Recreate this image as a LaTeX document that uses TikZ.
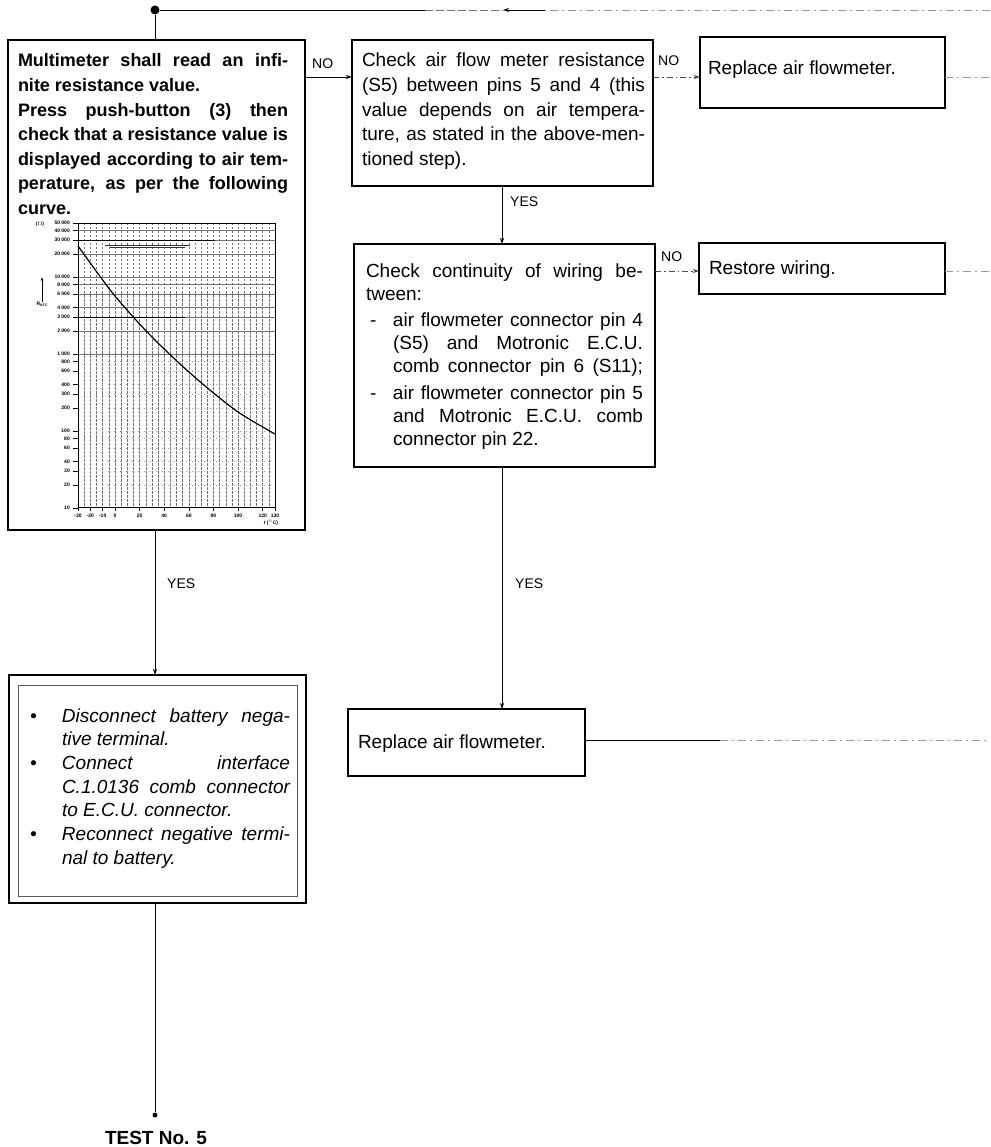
\documentclass[tikz,border=0pt]{standalone}
\usepackage{fontspec}
\setmainfont{Liberation Sans}
\usetikzlibrary{arrows.meta}

% justified text lines built by hand
\newdimen\itemind
\newcommand\jfull[1]{\hbox to\hsize{\strut#1}}
\newcommand\jlast[1]{\hbox to\hsize{\strut#1\hfil}}
\newcommand\jitem[2]{\hbox to\hsize{\strut\hbox to\itemind{#1\hfil}#2}}
\newcommand\para[2]{\vtop{\hsize=#1pt\relax#2}}
\newcommand\ticky{\fontsize{5}{6}\selectfont\bfseries}

\begin{document}
\begin{tikzpicture}[x=1pt,y=-1pt,
  box/.style={draw, rectangle, anchor=north west, inner sep=0pt, outer sep=0pt, line width=2pt},
  txt/.style={anchor=base west, inner sep=0pt, outer sep=0pt},
  body/.style={font=\fontsize{19}{24.6}\selectfont},
  lab/.style={anchor=base west, inner sep=0pt, font=\fontsize{14}{16}\selectfont},
  conn/.style={line width=0.8pt},
  tip/.style={-{Stealth[length=6pt,width=4pt]}},
  faint/.style={line width=0.7pt, black!40, dash pattern=on 8pt off 4pt on 2pt off 4pt},
  dashdot/.style={line width=0.7pt, black!70, dash pattern=on 6pt off 3pt on 1.5pt off 3pt},
  gridv/.style={line width=0.45pt, black!55, dash pattern=on 2.5pt off 1.5pt},
  gridh/.style={line width=0.4pt, black!55},
  dotbullet/.style={circle, fill, inner sep=0pt},
]
\useasboundingbox (0,0) rectangle (990,1147);

% ---------- boxes ----------
\node[box, line width=2.6pt, minimum width=297, minimum height=490] (A) at (8,40) {};
\node[box, minimum width=301, minimum height=146] (B) at (352,40) {};
\node[box, minimum width=245, minimum height=71] (C) at (700,37) {};
\node[box, minimum width=301, minimum height=223] (D) at (354,244) {};
\node[box, minimum width=246, minimum height=51] (E) at (699,243) {};
\node[box, minimum width=237, minimum height=67] (F) at (348,709) {};
\node[box, line width=2.4pt, minimum width=297, minimum height=228] (Gout) at (9,675) {};
\node[box, line width=0.8pt, draw=black!65, minimum width=279, minimum height=211] (Gin) at (18,685) {};

% ---------- texts ----------
\node[txt, font=\bfseries\fontsize{18}{24.6}\selectfont] (Atext) at (18,67) {\para{270}{%
  \jfull{Multimeter shall read an infi-}
  \jlast{nite resistance value.}
  \jfull{Press push-button (3) then}
  \jfull{check that a resistance value is}
  \jfull{displayed according to air tem-}
  \jfull{perature, as per the following}
  \jlast{curve.}}};

\node[txt, body] (Btext) at (362,67) {\para{283}{%
  \jfull{Check air flow meter resistance}
  \jfull{(S5) between pins 5 and 4 (this}
  \jfull{value depends on air tempera-}
  \jfull{ture, as stated in the above-men-}
  \jlast{tioned step).}}};

\node[txt, body] (Ctext) at (708,75) {Replace air flowmeter.};

\node[txt, font=\fontsize{19}{23}\selectfont] (Dtext) at (366,277) {\itemind=27pt\para{277}{%
  \jfull{Check continuity of wiring be-}
  \jlast{tween:}
  \vskip3.5pt
  \jitem{\hskip4pt-}{air flowmeter connector pin 4}
  \jfull{\hskip\itemind (S5) and Motronic E.C.U.}
  \jfull{\hskip\itemind comb connector pin 6 (S11);}
  \vskip3.5pt
  \jitem{\hskip4pt-}{air flowmeter connector pin 5}
  \jfull{\hskip\itemind and Motronic E.C.U. comb}
  \jlast{\hskip\itemind connector pin 22.}}};

\node[txt, body] (Etext) at (709,275) {Restore wiring.};
\node[txt, body] (Ftext) at (358,748) {Replace air flowmeter.};

\node[txt, font=\itshape\fontsize{19}{23.7}\selectfont] (Gtext) at (28,722) {\itemind=34pt\para{262}{%
  \jitem{\hskip2pt\textbullet}{Disconnect battery nega-}
  \jlast{\hskip\itemind tive terminal.}
  \jitem{\hskip2pt\textbullet}{Connect interface}
  \jfull{\hskip\itemind C.1.0136 comb connector}
  \jlast{\hskip\itemind to E.C.U. connector.}
  \jitem{\hskip2pt\textbullet}{Reconnect negative termi-}
  \jlast{\hskip\itemind nal to battery.}}};

% ---------- NTC resistance curve ----------
\begin{scope}
  % vertical grid (every 5 degC)
  \foreach \t in {-25,-20,...,125} {
    \pgfmathsetmacro\xx{115+1.231*\t}
    \draw[gridv] (\xx,223) -- (\xx,507);
  }
  % horizontal grid, upper decades
  \foreach \m/\e in {5/4,4/4,3/4,2/4,1/4,8/3,6/3,4/3,3/3,2/3,1/3} {
    \pgfmathsetmacro\yy{585-77*(\e+log10(\m))}
    \draw[gridh] (78,\yy) -- (275,\yy);
  }
  % lower decades: only faint dotted lines
  \foreach \m/\e in {8/2,6/2,4/2,3/2,2/2,1/2,8/1,6/1,4/1,3/1,2/1} {
    \pgfmathsetmacro\yy{585-77*(\e+log10(\m))}
    \draw[line width=0.4pt, black!40, dash pattern=on 1pt off 5pt] (78,\yy) -- (275,\yy);
  }
  % heavier lines in the upper band
  \draw[line width=0.9pt] (78,240.5) -- (215,240.5);
  \draw[line width=0.7pt, black!80] (105,245) -- (190,245);
  \draw[line width=0.7pt, black!80] (110,247.5) -- (185,247.5);
  \draw[line width=0.7pt] (78,317) -- (185,317);
  % frame
  \draw[line width=0.7pt] (78,223) rectangle (275,507);
  % y ticks and labels
  \foreach \m/\e/\lab in {5/4/50 000,4/4/40 000,3/4/30 000,2/4/20 000,1/4/10 000,
      8/3/8 000,6/3/6 000,4/3/4 000,3/3/3 000,2/3/2 000,1/3/1 000,
      8/2/800,6/2/600,4/2/400,3/2/300,2/2/200,1/2/100,
      8/1/80,6/1/60,4/1/40,3/1/30,2/1/20,1/1/10} {
    \pgfmathsetmacro\yy{585-77*(\e+log10(\m))}
    \draw[line width=0.6pt] (73,\yy) -- (78,\yy);
    \node[anchor=east, inner sep=0pt, font=\ticky] (yl-\m-\e) at (70,\yy) {\lab};
  }
  % x ticks and labels
  \foreach \t/\lab in {-30/-30,-20/-20,-10/-10,0/0,20/20,40/40,60/60,80/80,100/100,120/120,130/130} {
    \pgfmathsetmacro\xx{115+1.231*\t}
    \draw[line width=0.6pt] (\xx,507) -- (\xx,511);
    \node[inner sep=0pt, font=\ticky] (xl\t) at (\xx,515.5) {\lab};
  }
  % axis annotations
  \node[inner sep=0pt, font=\ticky] (ohm) at (40,224) {($\Omega$)};
  \node[inner sep=0pt, font=\ticky] (rntc) at (42,304) {R\raisebox{-1pt}{\fontsize{3.5}{4}\selectfont NTC}};
  \coordinate (rarrow) at (42,277);
  \draw[line width=0.7pt, -{Stealth[length=4pt,width=2.5pt]}] (rntc.north) -- (rarrow);
  \node[inner sep=0pt, font=\ticky] (tlab) at (271,523) {t ($^\circ$C)};
  % the curve
  \draw[line width=1.2pt] plot[smooth, tension=0.6] coordinates {
    (78,246) (90.3,263) (102.7,280) (115,296) (139.6,324) (164.2,349)
    (188.9,372) (213.5,393) (238.1,412) (262.7,427) (275,434)};
\end{scope}

% ---------- connectors ----------
\node[dotbullet, minimum size=9pt] (top) at (155,10) {};
\coordinate (topA) at (425,10);
\coordinate (topArrow) at (503,10);
\coordinate (topTail) at (545,10);
\coordinate (topR) at (990,10);
\draw[conn] (top) -- (top |- A.north);
\draw[conn] (top) -- (topA);
\draw[line width=0.7pt, black!55, dash pattern=on 8pt off 3pt] (topA) -- (topArrow);
\draw[conn, tip] (topTail) -- (topArrow);
\draw[faint] (topR) -- (topTail);

\coordinate (yAB) at (0,77);
\coordinate (rC) at (990,77);
\draw[conn, tip] (A.east |- yAB) -- (B.west |- yAB);
\draw[dashdot, tip] (B.east |- yAB) -- (C.west |- yAB);
\draw[faint] (C.east |- yAB) -- (rC);

\coordinate (xBD) at (502,0);
\draw[conn, tip] (B.south -| xBD) -- (D.north -| xBD);

\coordinate (yDE) at (0,271);
\coordinate (rE) at (990,271);
\draw[dashdot, tip] (D.east |- yDE) -- (E.west |- yDE);
\draw[faint] (E.east |- yDE) -- (rE);

\draw[conn, tip] (D.south -| xBD) -- (F.north -| xBD);

\coordinate (yF) at (0,740);
\coordinate (mF) at (720,740);
\coordinate (rF) at (990,740);
\draw[conn] (F.east |- yF) -- (mF);
\draw[faint] (mF) -- (rF);

\draw[conn, tip] (A.south -| top) -- (Gout.north -| top);
\node[dotbullet, minimum size=5pt] (end) at (155,1115) {};
\draw[conn] (Gout.south -| end) -- (end);

% ---------- labels ----------
\node[lab] (noAB) at (312,69) {NO};
\node[lab] (noBC) at (658,66) {NO};
\node[lab] (yesBD) at (510,207) {YES};
\node[lab] (noDE) at (661,262) {NO};
\node[lab] (yesAG) at (167,588) {YES};
\node[lab] (yesDF) at (515,588) {YES};
\node[txt, font=\bfseries\fontsize{19}{22}\selectfont] (test) at (105,1144) {TEST No. 5};
\end{tikzpicture}
\end{document}
